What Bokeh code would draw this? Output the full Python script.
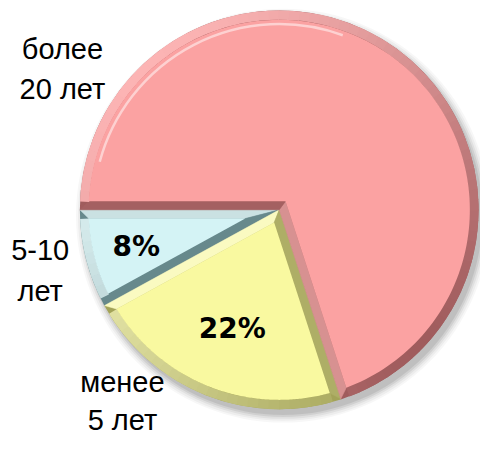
import numpy as np
from bokeh.plotting import figure
from bokeh.models import Range1d, ColumnDataSource
from bokeh.core.properties import value
from bokeh.embed import file_html
from bokeh.resources import INLINE

# ---- data ----
categories = ["5-10\nлет", "менее\n5 лет", "более\n20 лет"]
shares = [8, 22, 70]
pct_labels = ["8%", "22%", ""]

# ---- style ----
fill_colors = ["#D4F3F5", "#F9F9A0", "#FBA2A2"]
dark_colors = ["#67898C", "#A3A358", "#A05C5D"]
light_colors = ["#E6FAFB", "#FDFDC4", "#FCB4B4"]
label_xy = [(41, 173), (126, 38), (64, 382)]
label_lh = [1.27, 1.2, 1.27]
pct_radius = [0.74, 0.64, 0.0]

# figure in pixels; data units follow the 496x453 reference frame
W, H = 480, 437
XR, YR = 496, 453
cx, cy = 288, 236
R = 206
BEV = 9
START = np.pi
LIGHT = np.deg2rad(135)


def blend(c1, c2, t):
    a = [int(c1[i:i + 2], 16) for i in (1, 3, 5)]
    b = [int(c2[i:i + 2], 16) for i in (1, 3, 5)]
    return "#%02x%02x%02x" % tuple(int(round(a[k] + (b[k] - a[k]) * t)) for k in range(3))


vals = np.array(shares, dtype=float)
frac = vals / vals.sum()
ends = START + 2 * np.pi * np.cumsum(frac)
starts = ends - 2 * np.pi * frac

p = figure(width=W, height=H, x_range=Range1d(0, XR), y_range=Range1d(0, YR),
           output_backend="svg", toolbar_location=None, min_border=0)
p.axis.visible = False
p.grid.visible = False
p.outline_line_color = None
p.background_fill_color = "white"
p.border_fill_color = "white"

# soft shadow
for k, a in [(8, 0.03), (6, 0.04), (4, 0.05), (2, 0.07), (0, 0.08)]:
    p.circle(x=[cx + 4], y=[cy - 6], radius=R + k, fill_color="black",
             fill_alpha=a, line_color=None)

# base wedges (bevel colour)
src = ColumnDataSource(dict(start=starts, end=ends, color=dark_colors, cat=categories))
p.wedge(x=cx, y=cy, radius=R, start_angle="start", end_angle="end",
        fill_color="color", line_color=None, source=src)

Ri = R - BEV
strip_xs, strip_ys, strip_cols = [], [], []
ring_s, ring_e, ring_c = [], [], []
in_xs, in_ys = [], []

for i, (a1, a2) in enumerate(zip(starts, ends)):
    half = (a2 - a1) / 2
    mid = a1 + half
    s = BEV / np.sin(half)
    qx, qy = s * np.cos(mid), s * np.sin(mid)

    def hit(a):
        ux, uy = np.cos(a), np.sin(a)
        b = qx * ux + qy * uy
        t = -b + np.sqrt(b * b - (qx * qx + qy * qy) + Ri * Ri)
        return qx + t * ux, qy + t * uy

    h1 = hit(a1)
    h2 = hit(a2)
    f1 = np.arctan2(h1[1], h1[0])
    f2 = np.arctan2(h2[1], h2[0])
    while f2 <= f1:
        f2 += 2 * np.pi

    # edge strips, shaded by the direction they face
    for a, h, nrm in [(a1, h1, a1 - np.pi / 2), (a2, h2, a2 + np.pi / 2)]:
        t = ((1 + np.cos(nrm - LIGHT)) / 2) ** 1.6
        strip_xs.append([cx, cx + R * np.cos(a), cx + h[0], cx + qx])
        strip_ys.append([cy, cy + R * np.sin(a), cy + h[1], cy + qy])
        strip_cols.append(blend(dark_colors[i], light_colors[i], t))

    # outer rim segments
    n = max(2, int(np.degrees(f2 - f1) / 3))
    edges = np.linspace(f1, f2, n + 1)
    for e0, e1 in zip(edges[:-1], edges[1:]):
        m = (e0 + e1) / 2
        t = ((1 + np.cos(m - LIGHT)) / 2) ** 0.8
        ring_s.append(e0)
        ring_e.append(e1 + 0.004)
        ring_c.append(blend(dark_colors[i], light_colors[i], t))

    arc = np.linspace(f1, f2, 160)
    in_xs.append(list(np.r_[cx + qx, cx + Ri * np.cos(arc)]))
    in_ys.append(list(np.r_[cy + qy, cy + Ri * np.sin(arc)]))

p.patches(xs=strip_xs, ys=strip_ys, fill_color=strip_cols, line_color=strip_cols, line_width=0.5)
p.annular_wedge(x=cx, y=cy, inner_radius=Ri - 0.5, outer_radius=R,
                start_angle=ring_s, end_angle=ring_e, fill_color=ring_c, line_color=None)
p.patches(xs=in_xs, ys=in_ys, fill_color=fill_colors, line_color=None)

# highlight line on the lit rim
p.arc(x=cx, y=cy, radius=R - 14, start_angle=np.deg2rad(70), end_angle=np.deg2rad(165),
      line_color="white", line_alpha=0.5, line_width=2.5)

# percentage labels
mids = (starts + ends) / 2
px = [cx + R * f * np.cos(m) for f, m in zip(pct_radius, mids)]
py = [cy + R * f * np.sin(m) for f, m in zip(pct_radius, mids)]
p.text(x=px, y=py, text=pct_labels, text_font=value("DejaVu Sans"),
       text_font_style="bold", text_font_size="28px", text_align="center",
       text_baseline="middle", text_color="black")

# category labels
for (lx, ly), cat, lh in zip(label_xy, categories, label_lh):
    p.text(x=[lx], y=[ly], text=[cat],
           text_font=value("Liberation Sans"), text_font_size="29px", text_align="center",
           text_baseline="middle", text_line_height=lh, text_color="black")

open("out.html", "w").write(file_html(p, INLINE, title="pie"))
